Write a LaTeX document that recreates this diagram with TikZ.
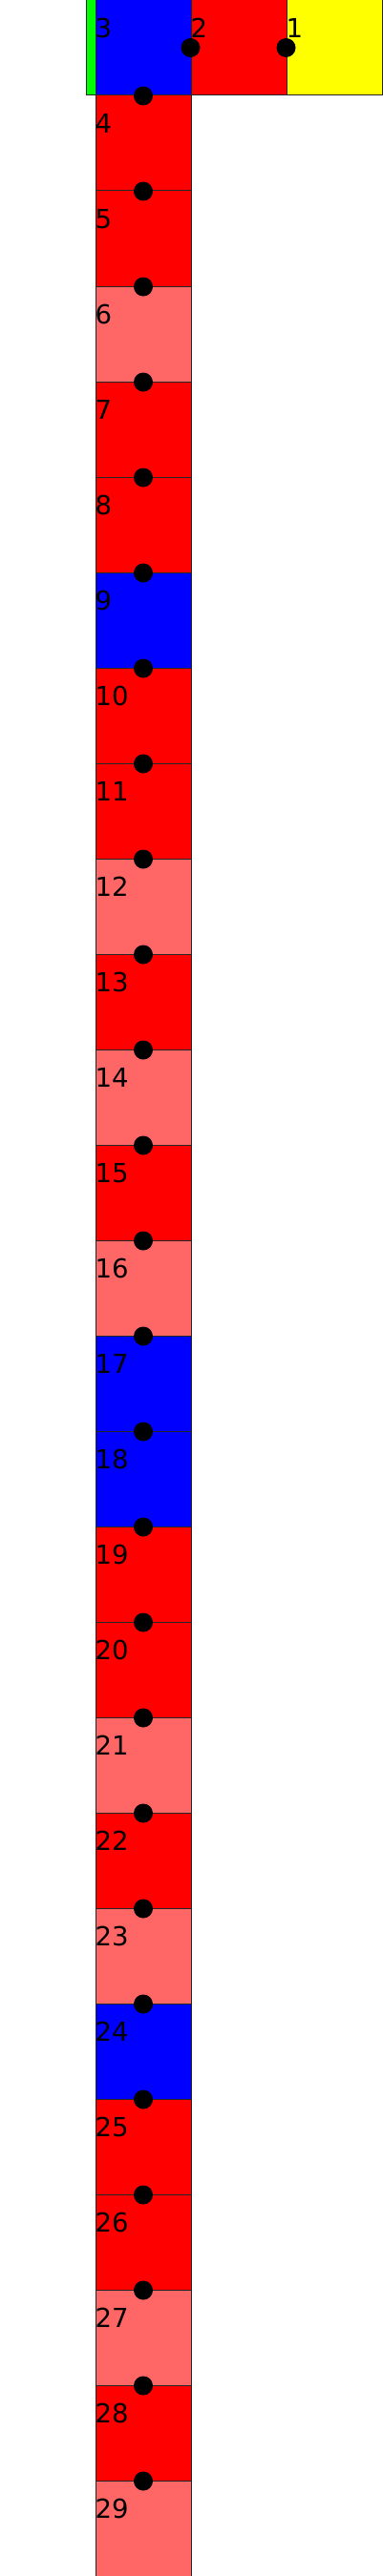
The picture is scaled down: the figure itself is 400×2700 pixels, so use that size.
\documentclass[tikz,border=0pt]{standalone}
\usepackage{fontspec}
\setmainfont{DejaVu Sans}
\usepackage{tikz}
\usetikzlibrary{positioning}

\definecolor{cellred}{HTML}{FF0000}
\definecolor{celllight}{HTML}{FF6666}
\definecolor{cellblue}{HTML}{0000FF}
\definecolor{cellyellow}{HTML}{FFFF00}
\definecolor{cellgreen}{HTML}{00FF00}

\begin{document}
\begin{tikzpicture}[
    x=1pt, y=1pt,
    cell/.style={rectangle, draw=black!85, line width=1pt, minimum size=100pt, inner sep=0pt},
    tag/.style={anchor=base west, inner sep=0pt, yshift=-40pt, font=\fontsize{27.5}{30}\selectfont},
    joint/.style={circle, fill=black, inner sep=0pt, minimum size=20pt}
]
    \useasboundingbox (0,0) rectangle (400,-2700);

    \node[cell, minimum width=10pt, fill=cellgreen] (edge) at (95,-50) {};
    \node[cell, fill=cellyellow, label={[tag]north west:1}] (1) at (350,-50) {};
    \node[cell, fill=cellred, label={[tag]north west:2}] (2) at (250,-50) {};
    \node[cell, fill=cellblue, label={[tag]north west:3}] (3) at (150,-50) {};
    \node[cell, fill=cellred, label={[tag]north west:4}] (4) at (150,-150) {};
    \node[cell, fill=cellred, label={[tag]north west:5}] (5) at (150,-250) {};
    \node[cell, fill=celllight, label={[tag]north west:6}] (6) at (150,-350) {};
    \node[cell, fill=cellred, label={[tag]north west:7}] (7) at (150,-450) {};
    \node[cell, fill=cellred, label={[tag]north west:8}] (8) at (150,-550) {};
    \node[cell, fill=cellblue, label={[tag]north west:9}] (9) at (150,-650) {};
    \node[cell, fill=cellred, label={[tag]north west:10}] (10) at (150,-750) {};
    \node[cell, fill=cellred, label={[tag]north west:11}] (11) at (150,-850) {};
    \node[cell, fill=celllight, label={[tag]north west:12}] (12) at (150,-950) {};
    \node[cell, fill=cellred, label={[tag]north west:13}] (13) at (150,-1050) {};
    \node[cell, fill=celllight, label={[tag]north west:14}] (14) at (150,-1150) {};
    \node[cell, fill=cellred, label={[tag]north west:15}] (15) at (150,-1250) {};
    \node[cell, fill=celllight, label={[tag]north west:16}] (16) at (150,-1350) {};
    \node[cell, fill=cellblue, label={[tag]north west:17}] (17) at (150,-1450) {};
    \node[cell, fill=cellblue, label={[tag]north west:18}] (18) at (150,-1550) {};
    \node[cell, fill=cellred, label={[tag]north west:19}] (19) at (150,-1650) {};
    \node[cell, fill=cellred, label={[tag]north west:20}] (20) at (150,-1750) {};
    \node[cell, fill=celllight, label={[tag]north west:21}] (21) at (150,-1850) {};
    \node[cell, fill=cellred, label={[tag]north west:22}] (22) at (150,-1950) {};
    \node[cell, fill=celllight, label={[tag]north west:23}] (23) at (150,-2050) {};
    \node[cell, fill=cellblue, label={[tag]north west:24}] (24) at (150,-2150) {};
    \node[cell, fill=cellred, label={[tag]north west:25}] (25) at (150,-2250) {};
    \node[cell, fill=cellred, label={[tag]north west:26}] (26) at (150,-2350) {};
    \node[cell, fill=celllight, label={[tag]north west:27}] (27) at (150,-2450) {};
    \node[cell, fill=cellred, label={[tag]north west:28}] (28) at (150,-2550) {};
    \node[cell, fill=celllight, label={[tag]north west:29}] (29) at (150,-2650) {};

    \node[joint] (j12) at (1.west) {};
    \node[joint] (j23) at (2.west) {};
    \node[joint] (j34) at (3.south) {};
    \node[joint] (j45) at (4.south) {};
    \node[joint] (j56) at (5.south) {};
    \node[joint] (j67) at (6.south) {};
    \node[joint] (j78) at (7.south) {};
    \node[joint] (j89) at (8.south) {};
    \node[joint] (j910) at (9.south) {};
    \node[joint] (j1011) at (10.south) {};
    \node[joint] (j1112) at (11.south) {};
    \node[joint] (j1213) at (12.south) {};
    \node[joint] (j1314) at (13.south) {};
    \node[joint] (j1415) at (14.south) {};
    \node[joint] (j1516) at (15.south) {};
    \node[joint] (j1617) at (16.south) {};
    \node[joint] (j1718) at (17.south) {};
    \node[joint] (j1819) at (18.south) {};
    \node[joint] (j1920) at (19.south) {};
    \node[joint] (j2021) at (20.south) {};
    \node[joint] (j2122) at (21.south) {};
    \node[joint] (j2223) at (22.south) {};
    \node[joint] (j2324) at (23.south) {};
    \node[joint] (j2425) at (24.south) {};
    \node[joint] (j2526) at (25.south) {};
    \node[joint] (j2627) at (26.south) {};
    \node[joint] (j2728) at (27.south) {};
    \node[joint] (j2829) at (28.south) {};
\end{tikzpicture}
\end{document}
